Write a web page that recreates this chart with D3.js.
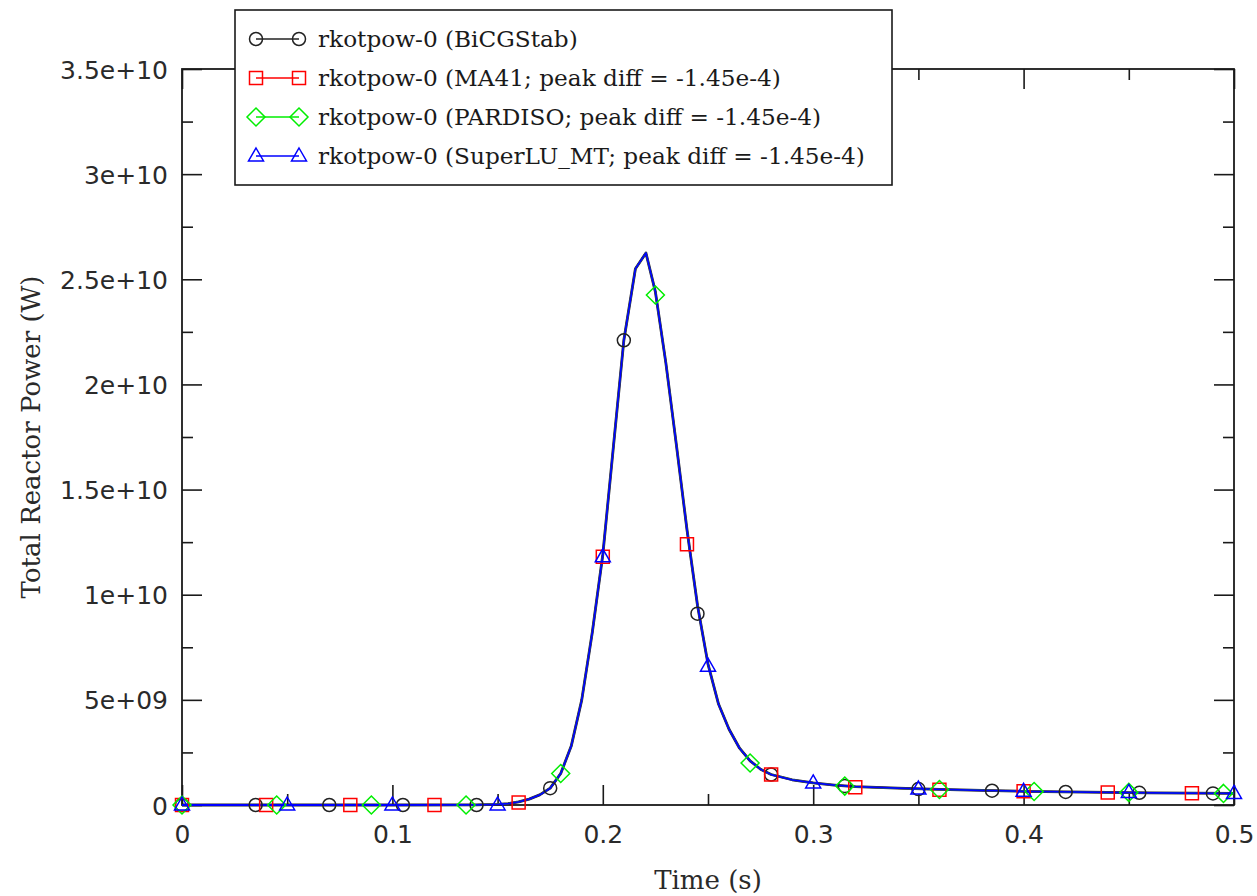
<!DOCTYPE html>
<html>
<head>
<meta charset="utf-8">
<script src="https://cdn.jsdelivr.net/npm/d3@7"></script>
<style>
	html, body { margin: 0; padding: 0; background: #fff; }
	svg { display: block; }
</style>
</head>
<body>
<svg id="chart" width="1257" height="896"></svg>
<script>

// ---- data (power in units of 1e9 W) ----

// sampled reactor power curve, shared by the four solvers (they overlap)
var curveTime = [ 0, 0.05, 0.1, 0.14, 0.15, 0.155, 0.16, 0.165, 0.17, 0.175, 0.18, 0.185,
	0.19, 0.195, 0.2, 0.205, 0.21, 0.2155, 0.2205, 0.225, 0.23, 0.235, 0.24, 0.245, 0.25,
	0.255, 0.26, 0.265, 0.27, 0.275, 0.28, 0.29, 0.3, 0.31, 0.32, 0.34, 0.36, 0.38, 0.4,
	0.43, 0.46, 0.5 ];
var curvePower = [ 0, 0, 0, 0.01, 0.03, 0.07, 0.15, 0.28, 0.48, 0.8, 1.5, 2.8,
	5.0, 8.2, 11.9, 17.0, 22.1, 25.5, 26.25, 24.4, 21.0, 17.1, 13.1, 9.5, 6.7,
	4.8, 3.6, 2.7, 2.1, 1.7, 1.45, 1.2, 1.05, 0.95, 0.87, 0.8, 0.74, 0.7, 0.65,
	0.61, 0.58, 0.55 ];

// marker samples of each series
var bicgTime  = [ 0, 0.035, 0.07, 0.105, 0.14, 0.175, 0.21, 0.245, 0.28, 0.315, 0.35, 0.385, 0.42, 0.455, 0.49 ];
var bicgPower = [ 0, 0, 0, 0, 0, 0.8, 22.1, 9.1, 1.45, 0.9, 0.76, 0.68, 0.62, 0.58, 0.55 ];

var ma41Time  = [ 0, 0.04, 0.08, 0.12, 0.16, 0.2, 0.24, 0.28, 0.32, 0.36, 0.4, 0.44, 0.48 ];
var ma41Power = [ 0, 0, 0, 0, 0.12, 11.8, 12.4, 1.45, 0.85, 0.73, 0.65, 0.6, 0.56 ];

var pardisoTime  = [ 0, 0.045, 0.09, 0.135, 0.18, 0.225, 0.27, 0.315, 0.36, 0.405, 0.45, 0.495 ];
var pardisoPower = [ 0, 0, 0, 0, 1.5, 24.25, 2.0, 0.9, 0.74, 0.64, 0.6, 0.55 ];

var superluTime  = [ 0, 0.05, 0.1, 0.15, 0.2, 0.25, 0.3, 0.35, 0.4, 0.45, 0.5 ];
var superluPower = [ 0, 0, 0, 0, 11.8, 6.6, 1.05, 0.76, 0.65, 0.6, 0.55 ];

var seriesNames = [
	'rkotpow-0 (BiCGStab)',
	'rkotpow-0 (MA41; peak diff = -1.45e-4)',
	'rkotpow-0 (PARDISO; peak diff = -1.45e-4)',
	'rkotpow-0 (SuperLU_MT; peak diff = -1.45e-4)'
];
var seriesColors = [ '#222222', '#ff0000', '#00ee00', '#0000ff' ];
var seriesShapes = [ 'circle', 'square', 'diamond', 'triangle' ];
// curve widths: black peeks out under the blue one, as in the plot
var seriesWidths = [ 2.8, 1.5, 1.5, 1.8 ];

var xTicks = [ 0, 0.1, 0.2, 0.3, 0.4, 0.5 ];
var xTickLabels = [ '0', '0.1', '0.2', '0.3', '0.4', '0.5' ];
var yTicks = [ 0, 5, 10, 15, 20, 25, 30, 35 ];
var yTickLabels = [ '0', '5e+09', '1e+10', '1.5e+10', '2e+10', '2.5e+10', '3e+10', '3.5e+10' ];

var xTitle = 'Time (s)';
var yTitle = 'Total Reactor Power (W)';


// ---- layout ----
var plotLeft = 182, plotRight = 1234, plotTop = 69, plotBottom = 805;

var svg = d3.select( '#chart' );

var x = d3.scaleLinear().domain( [ 0, 0.5 ] ).range( [ plotLeft, plotRight ] );
var y = d3.scaleLinear().domain( [ 0, 35 ] ).range( [ plotBottom, plotTop ] );

var frameColor = '#1a1a1a';
var sansFont = '"DejaVu Sans", sans-serif';
var serifFont = '"DejaVu Serif", serif';


/**
 * Path for one marker, centred on 0,0.
 */
function markerPath( shape ) {
	switch ( shape ) {
		case 'circle':
			return d3.symbol( d3.symbolCircle, Math.PI * 6.5 * 6.5 )();
		case 'square':
			return d3.symbol( d3.symbolSquare, 13 * 13 )();
		case 'diamond':
			return 'M0,-9L9,0L0,9L-9,0Z';
		case 'triangle':
			return 'M0,-8L7.5,5L-7.5,5Z';
	}
}


// ---- axes: bottom/left with labels, top/right mirrored ----
var xMinor = d3.range( 0.05, 0.5, 0.1 );
var yMinor = d3.range( 2.5, 35, 5 );

// inward ticks: d3 still offsets labels by the padding only
var axisBottom = d3.axisBottom( x ).tickValues( xTicks )
	.tickFormat( function( d, i ) { return xTickLabels[ i ]; } )
	.tickSizeInner( -20 ).tickSizeOuter( 0 ).tickPadding( 33 );
var axisLeft = d3.axisLeft( y ).tickValues( yTicks )
	.tickFormat( function( d, i ) { return yTickLabels[ i ]; } )
	.tickSizeInner( -20 ).tickSizeOuter( 0 ).tickPadding( 14 );

var gx = svg.append( 'g' ).attr( 'transform', 'translate(0,' + plotBottom + ')' ).call( axisBottom );
var gy = svg.append( 'g' ).attr( 'transform', 'translate(' + plotLeft + ',0)' ).call( axisLeft );

// minor ticks, all four sides, and mirrored major ticks
svg.append( 'g' ).attr( 'transform', 'translate(0,' + plotBottom + ')' )
	.call( d3.axisBottom( x ).tickValues( xMinor ).tickSize( -11 ).tickFormat( '' ) );
svg.append( 'g' ).attr( 'transform', 'translate(0,' + plotTop + ')' )
	.call( d3.axisTop( x ).tickValues( xMinor ).tickSize( -11 ).tickFormat( '' ) );
svg.append( 'g' ).attr( 'transform', 'translate(0,' + plotTop + ')' )
	.call( d3.axisTop( x ).tickValues( xTicks ).tickSize( -20 ).tickFormat( '' ) );
svg.append( 'g' ).attr( 'transform', 'translate(' + plotLeft + ',0)' )
	.call( d3.axisLeft( y ).tickValues( yMinor ).tickSize( -11 ).tickFormat( '' ) );
svg.append( 'g' ).attr( 'transform', 'translate(' + plotRight + ',0)' )
	.call( d3.axisRight( y ).tickValues( yMinor ).tickSize( -11 ).tickFormat( '' ) );
svg.append( 'g' ).attr( 'transform', 'translate(' + plotRight + ',0)' )
	.call( d3.axisRight( y ).tickValues( yTicks ).tickSize( -20 ).tickFormat( '' ) );

svg.selectAll( '.domain' ).remove();
svg.selectAll( '.tick line' ).attr( 'stroke', frameColor ).attr( 'stroke-width', 1.6 );
svg.selectAll( '.tick text' )
	.attr( 'fill', '#2a2a2a' )
	.style( 'font-family', sansFont )
	.style( 'font-size', '25px' );
gy.selectAll( '.tick text' ).attr( 'dy', '0.36em' );
gx.selectAll( '.tick text' ).attr( 'dy', '0.2em' );

// frame
svg.append( 'rect' )
	.attr( 'x', plotLeft ).attr( 'y', plotTop )
	.attr( 'width', plotRight - plotLeft ).attr( 'height', plotBottom - plotTop )
	.attr( 'fill', 'none' )
	.attr( 'stroke', frameColor )
	.attr( 'stroke-width', 1.8 );


// ---- titles ----
svg.append( 'text' )
	.attr( 'x', ( plotLeft + plotRight ) / 2 ).attr( 'y', 889 )
	.attr( 'text-anchor', 'middle' )
	.attr( 'fill', '#2a2a2a' )
	.style( 'font-family', serifFont ).style( 'font-size', '26px' )
	.text( xTitle );

svg.append( 'text' )
	.attr( 'transform', 'translate(40,' + ( ( plotTop + plotBottom ) / 2 ) + ') rotate(-90)' )
	.attr( 'text-anchor', 'middle' )
	.attr( 'fill', '#2a2a2a' )
	.style( 'font-family', serifFont ).style( 'font-size', '26px' )
	.text( yTitle );


// ---- series ----
var curve = d3.zip( curveTime, curvePower );
var markerSets = [
	d3.zip( bicgTime, bicgPower ),
	d3.zip( ma41Time, ma41Power ),
	d3.zip( pardisoTime, pardisoPower ),
	d3.zip( superluTime, superluPower )
];

var line = d3.line()
	.x( function( d ) { return x( d[ 0 ] ); } )
	.y( function( d ) { return y( d[ 1 ] ); } );

seriesNames.forEach( function( name, i ) {
	svg.append( 'path' )
		.datum( curve )
		.attr( 'd', line )
		.attr( 'fill', 'none' )
		.attr( 'stroke', seriesColors[ i ] )
		.attr( 'stroke-width', seriesWidths[ i ] )
		.attr( 'stroke-linejoin', 'round' );
} );

seriesNames.forEach( function( name, i ) {
	svg.append( 'g' )
		.selectAll( 'path' )
		.data( markerSets[ i ] )
		.enter()
		.append( 'path' )
			.attr( 'd', markerPath( seriesShapes[ i ] ) )
			.attr( 'transform', function( d ) { return 'translate(' + x( d[ 0 ] ) + ',' + y( d[ 1 ] ) + ')'; } )
			.attr( 'fill', 'none' )
			.attr( 'stroke', seriesColors[ i ] )
			.attr( 'stroke-width', 1.5 );
} );


// ---- legend ----
var legend = svg.append( 'g' );
legend.append( 'rect' )
	.attr( 'x', 235 ).attr( 'y', 10 )
	.attr( 'width', 657 ).attr( 'height', 175 )
	.attr( 'fill', '#fff' )
	.attr( 'stroke', frameColor )
	.attr( 'stroke-width', 1.6 );

var rows = legend.selectAll( 'g.row' )
	.data( seriesNames )
	.enter()
	.append( 'g' )
		.attr( 'class', 'row' )
		.attr( 'transform', function( d, i ) { return 'translate(0,' + ( 39 + i * 39 ) + ')'; } );

rows.append( 'line' )
	.attr( 'x1', 256 ).attr( 'x2', 299 )
	.attr( 'stroke', function( d, i ) { return seriesColors[ i ]; } )
	.attr( 'stroke-width', 1.5 );

[ 256, 299 ].forEach( function( mx ) {
	rows.append( 'path' )
		.attr( 'd', function( d, i ) { return markerPath( seriesShapes[ i ] ); } )
		.attr( 'transform', 'translate(' + mx + ',0)' )
		.attr( 'fill', 'none' )
		.attr( 'stroke', function( d, i ) { return seriesColors[ i ]; } )
		.attr( 'stroke-width', 1.5 );
} );

rows.append( 'text' )
	.attr( 'x', 318 ).attr( 'dy', '0.36em' )
	.attr( 'fill', '#1a1a1a' )
	.style( 'font-family', serifFont ).style( 'font-size', '23.2px' )
	.text( function( d ) { return d; } );

</script>
</body>
</html>
